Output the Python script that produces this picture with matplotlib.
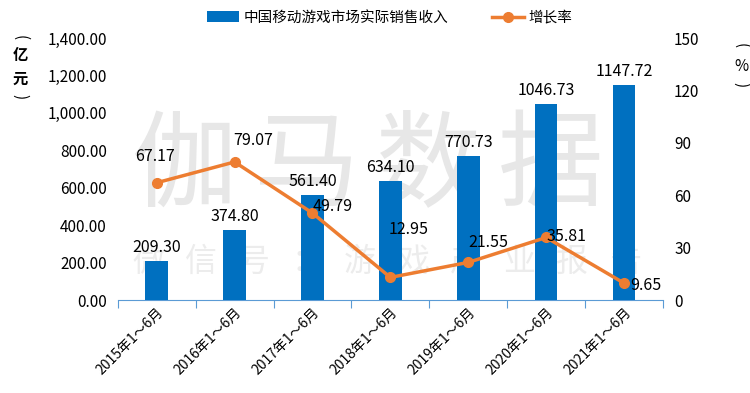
import matplotlib
matplotlib.use("Agg")
import matplotlib.pyplot as plt
import numpy as np

plt.rcParams['font.family'] = ['Noto Sans CJK SC', 'DejaVu Sans']

categories = ["2015年1～6月", "2016年1～6月", "2017年1～6月", "2018年1～6月",
              "2019年1～6月", "2020年1～6月", "2021年1～6月"]
revenue = [209.30, 374.80, 561.40, 634.10, 770.73, 1046.73, 1147.72]
growth = [67.17, 79.07, 49.79, 12.95, 21.55, 35.81, 9.65]
bar_name = "中国移动游戏市场实际销售收入"
line_name = "增长率"
wm_big = "伽马数据"
wm_small = "微信号：游戏产业报告"

bar_color = "#0070C0"
line_color = "#ED7D31"
axis_color = "#5B9BD5"

W, H = 750, 393
fig = plt.figure(figsize=(7.5, 3.93), dpi=100)
ax = fig.add_axes([0.157, 0.2366, 0.727, 0.6664])
ax2 = ax.twinx()

x = np.arange(len(categories))

# watermark (behind bars)
for i, ch in enumerate(wm_big):
    ax.text((185 + 122 * i) / W, 1 - 168 / H, ch, fontsize=76, color="#e7e7e7", ha="center",
            va="center", zorder=0, transform=fig.transFigure, clip_on=False)
for i, ch in enumerate(wm_small):
    ax.text((148 + 53 * i) / W, 1 - 262 / H, ch, fontsize=23, color="#ececec", ha="center",
            va="center", zorder=0, transform=fig.transFigure, clip_on=False)

ax.patch.set_visible(False)
ax2.patch.set_visible(False)

bars = ax.bar(x, revenue, width=0.29, color=bar_color, label=bar_name, zorder=3)
ax.set_xlim(-0.5, len(categories) - 0.5)
ax.set_ylim(0, 1400)
ax.set_yticks(np.arange(0, 1401, 200))
ax.set_yticklabels([f"{v:,.2f}" for v in np.arange(0, 1401, 200)], fontsize=11)
ax.set_xticks(np.arange(-0.5, len(categories), 1), minor=False)
ax.set_xticklabels([])
ax.set_xticks(x, minor=True)
ax.set_xticklabels(categories, minor=True, rotation=45, ha="right", rotation_mode="anchor", fontsize=10)
ax.tick_params(axis='x', which='major', length=6, color=axis_color, direction='out')
ax.tick_params(axis='x', which='minor', length=0, pad=4)
ax.tick_params(axis='y', length=0, pad=8)
for s in ["top", "right", "left"]:
    ax.spines[s].set_visible(False)
ax.spines["bottom"].set_color(axis_color)

for xi, v in zip(x, revenue):
    ax.annotate(f"{v:.2f}", (xi, v), xytext=(0, 5), textcoords="offset pixels",
                ha="center", va="bottom", fontsize=11.5, zorder=5)

ax2.plot(x, growth, color=line_color, lw=2.5, marker="o", markersize=7, label=line_name, zorder=4)
ax2.set_ylim(0, 150)
ax2.set_yticks(np.arange(0, 151, 30))
ax2.set_yticklabels([str(v) for v in range(0, 151, 30)], fontsize=11)
ax2.tick_params(axis='y', length=0, pad=8)
for s in ["top", "right", "left", "bottom"]:
    ax2.spines[s].set_visible(False)

offsets = [(-2, 26), (19, 21), (20, 7), (18, 48), (20, 20), (20, 1), (22, -2)]
for xi, v, (dx, dy) in zip(x, growth, offsets):
    ax2.annotate(f"{v:.2f}", (xi, v), xytext=(dx, dy), textcoords="offset pixels",
                 ha="center", va="center", fontsize=11.5, zorder=5)

# axis unit labels (vertical)
fig.text(0.027, 0.905, "(", fontsize=11, ha="center", va="center", rotation=-90)
fig.text(0.027, 0.86, "亿", fontsize=11, ha="center", va="center", fontweight="bold")
fig.text(0.027, 0.80, "元", fontsize=11, ha="center", va="center", fontweight="bold")
fig.text(0.027, 0.755, ")", fontsize=11, ha="center", va="center", rotation=-90)
fig.text(0.988, 0.885, "(", fontsize=11, ha="center", va="center", rotation=-90)
fig.text(0.988, 0.832, "%", fontsize=11, ha="center", va="center")
fig.text(0.988, 0.785, ")", fontsize=11, ha="center", va="center", rotation=-90)

h1, l1 = ax.get_legend_handles_labels()
h2, l2 = ax2.get_legend_handles_labels()
fig.legend(h1 + h2, l1 + l2, loc="center", bbox_to_anchor=(0.52, 0.955), ncol=2,
           frameon=False, fontsize=10.5, handlelength=2.2, columnspacing=3, handletextpad=0.3)

fig.savefig("out.png", dpi=100)
